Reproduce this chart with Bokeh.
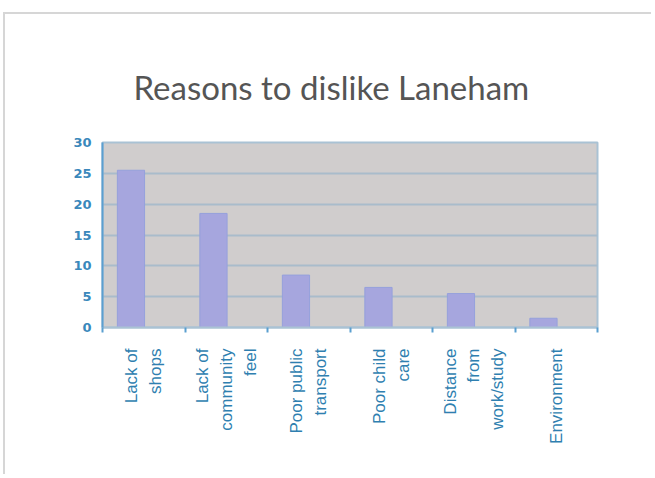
import math
from bokeh.plotting import figure
from bokeh.models import FixedTicker, Range1d
from bokeh.embed import file_html
from bokeh.resources import INLINE

categories = ["Lack of\nshops", "Lack of\ncommunity\nfeel", "Poor public\ntransport",
              "Poor child\ncare", "Distance\nfrom\nwork/study", "Environment"]
values = [25.5, 18.5, 8.5, 6.5, 5.5, 1.5]
y_ticks = [0, 5, 10, 15, 20, 25, 30]

n = len(categories)
centers = [i + 0.5 for i in range(n)]
bar_x = [c - 0.155 for c in centers]

p = figure(width=648, height=462, output_backend="svg", toolbar_location=None,
           x_range=Range1d(0, n), y_range=Range1d(0, 30),
           min_border_left=97, min_border_right=56, min_border_top=128,
           min_border_bottom=149)

p.title.text = "Reasons to dislike Laneham"
p.title.align = "left"
p.title.offset = 31
p.title.text_font = "Lato"
p.title.text_font_size = "33px"
p.title.text_font_style = "normal"
p.title.text_color = "#555555"
p.title.standoff = 72

p.background_fill_color = "#d0cdcd"
p.border_fill_color = "white"
p.outline_line_color = "#a9c2d4"
p.outline_line_width = 2

p.xgrid.visible = False
p.ygrid.ticker = FixedTicker(ticks=y_ticks)
p.ygrid.grid_line_color = "#a9bccb"
p.ygrid.grid_line_width = 2

p.vbar(x=bar_x, top=values, width=0.33, fill_color="#a6a6de", line_color="#95a0dc")

ya = p.yaxis[0]
ya.ticker = FixedTicker(ticks=y_ticks)
ya.axis_line_color = "#5b9fd0"
ya.axis_line_width = 2
ya.major_tick_line_color = None
ya.major_tick_out = 0
ya.minor_tick_line_color = None
ya.major_label_text_font = "DejaVu Sans"
ya.major_label_text_font_size = "13px"
ya.major_label_text_font_style = "bold"
ya.major_label_text_color = "#3a88bb"
ya.major_label_standoff = 11

xa = p.xaxis[0]
xa.ticker = FixedTicker(ticks=centers, minor_ticks=list(range(n + 1)))
xa.major_label_overrides = {float(c): lab for c, lab in zip(centers, categories)}
xa.major_label_orientation = math.pi / 2
xa.major_tick_line_color = None
xa.major_tick_out = 0
xa.minor_tick_in = 0
xa.minor_tick_out = 5
xa.minor_tick_line_color = "#5b9fd0"
xa.minor_tick_line_width = 2
xa.axis_line_color = "#a9c2d4"
xa.axis_line_width = 2
xa.major_label_text_font = "Liberation Sans"
xa.major_label_text_font_size = "17px"
xa.major_label_text_color = "#2f7fb0"
xa.major_label_text_line_height = 1.25
xa.major_label_standoff = 16

p.styles = {"border-left": "2px solid #d6d6d6", "border-top": "2px solid #d6d6d6",
            "margin-top": "12px", "margin-left": "3px"}

open("out.html", "w").write(file_html(p, INLINE))
